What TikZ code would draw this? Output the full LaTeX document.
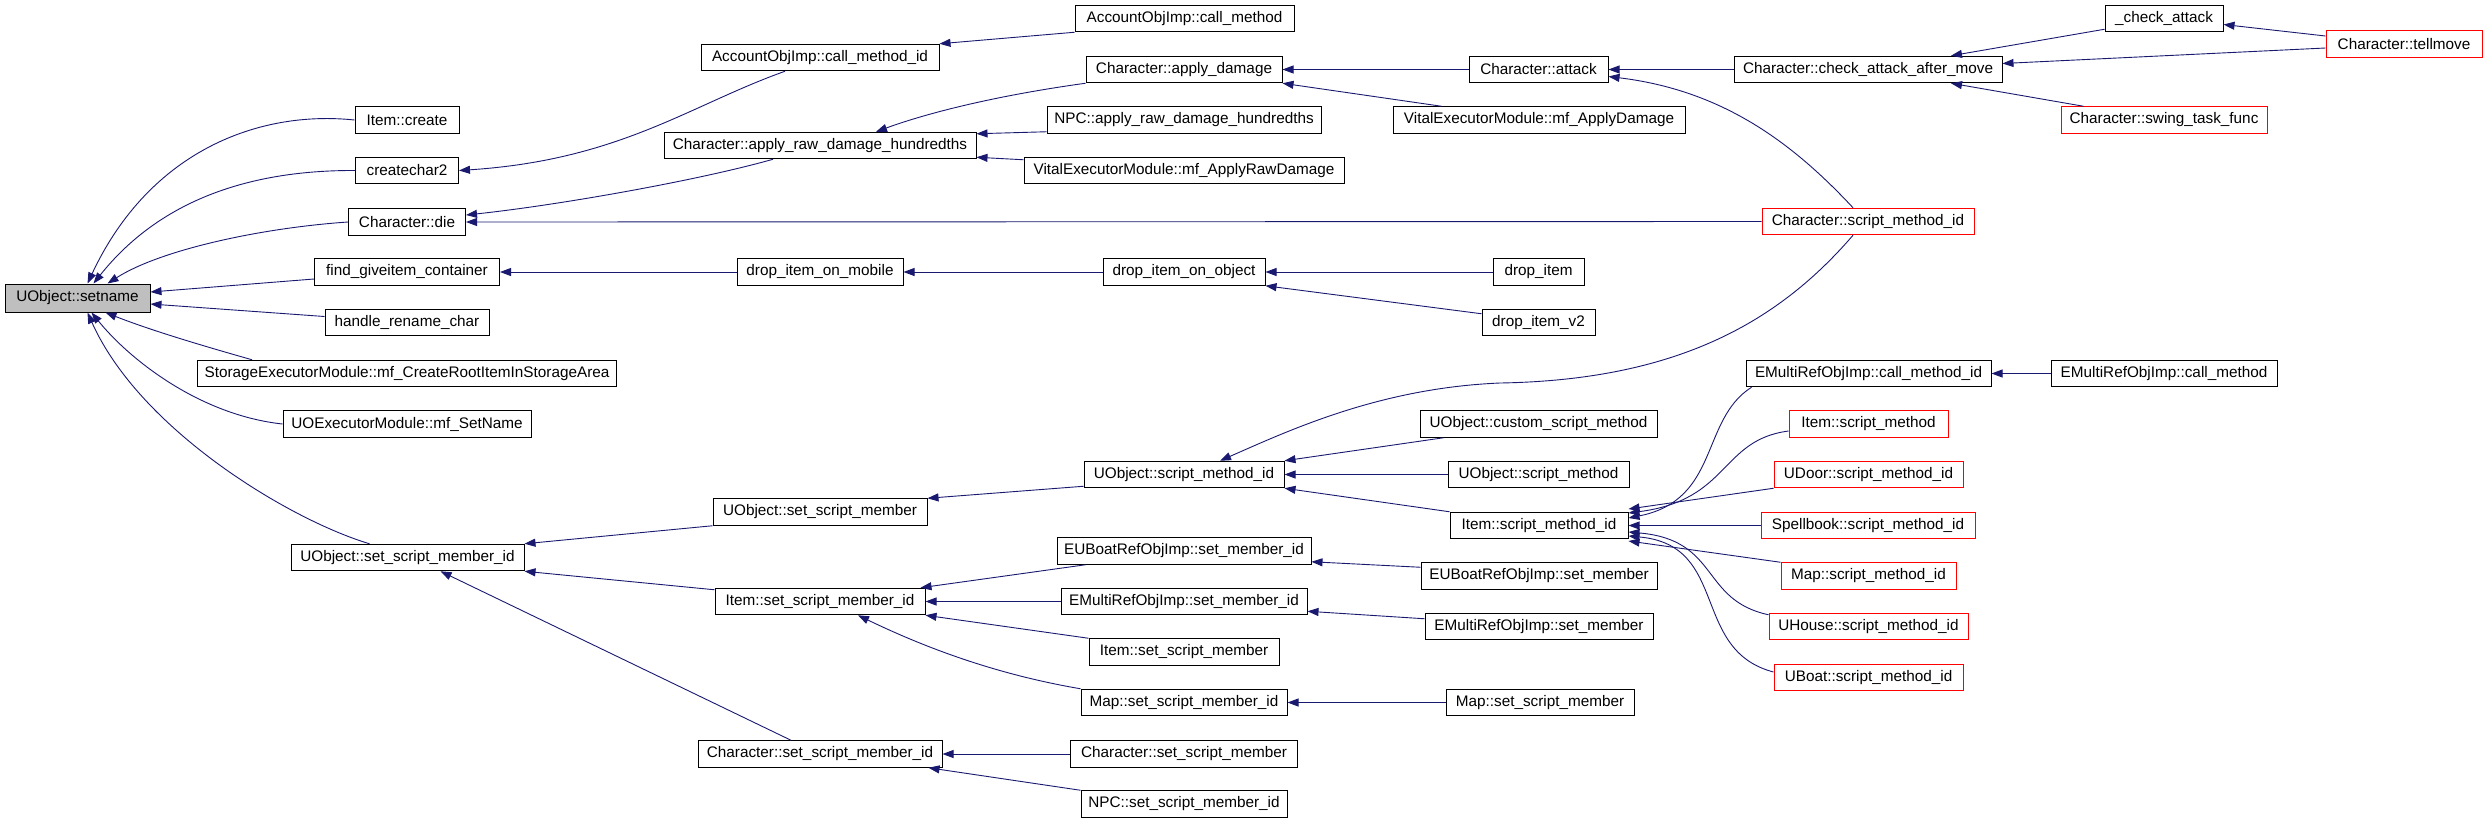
\documentclass[tikz,border=0pt]{standalone}
\usepackage{fontspec}
\setmainfont{Liberation Sans}
\usetikzlibrary{arrows.meta}
\definecolor{midblue}{HTML}{191970}
\definecolor{rootgray}{HTML}{BFBFBF}

\begin{document}
\begin{tikzpicture}[x=1pt,y=-1pt]
\tikzstyle{fn}=[
  rectangle,
  draw,
  line width=1pt,
  minimum height=26.5pt,
  inner sep=0pt,
  font=\fontsize{15.3}{18}\selectfont ]
\tikzstyle{ext}=[fn, draw=red]
\tikzstyle{root}=[fn, fill=rootgray]
\tikzstyle{call}=[midblue, line width=0.9pt, -{Triangle[length=11pt,width=8pt]}]
\useasboundingbox (0,0) rectangle (2488,823);

\node[root, minimum width=145pt, minimum height=28pt] (setname) at (77.5,298) {UObject::setname};

\node[fn, minimum width=104pt] (create) at (407,120) {Item::create};
\node[fn, minimum width=103pt] (createchar2) at (407,170.5) {createchar2};
\node[fn, minimum width=117pt] (die) at (407,222) {Character::die};
\node[fn, minimum width=185pt] (findgive) at (407,272) {find\_giveitem\_container};
\node[fn, minimum width=164pt] (handle) at (407,322.5) {handle\_rename\_char};
\node[fn, minimum width=419pt] (storage) at (407,373.5) {StorageExecutorModule::mf\_CreateRootItemInStorageArea};
\node[fn, minimum width=248pt] (uoexec) at (407,424) {UOExecutorModule::mf\_SetName};
\node[fn, minimum width=233pt] (uossmid) at (407.5,557.5) {UObject::set\_script\_member\_id};

\node[fn, minimum width=238pt] (cmid) at (820,57.5) {AccountObjImp::call\_method\_id};
\node[fn, minimum width=312pt] (ard) at (820,145.5) {Character::apply\_raw\_damage\_hundredths};
\node[fn, minimum width=166pt] (dimob) at (820,272) {drop\_item\_on\_mobile};
\node[fn, minimum width=214pt] (ussm) at (820,512) {UObject::set\_script\_member};
\node[fn, minimum width=210pt] (issmid) at (820,601.5) {Item::set\_script\_member\_id};
\node[fn, minimum width=244pt] (cssmid) at (820,754) {Character::set\_script\_member\_id};

\node[fn, minimum width=219pt] (acm) at (1184.5,18.5) {AccountObjImp::call\_method};
\node[fn, minimum width=196pt] (adamage) at (1184,69.5) {Character::apply\_damage};
\node[fn, minimum width=274pt] (npcard) at (1184,120) {NPC::apply\_raw\_damage\_hundredths};
\node[fn, minimum width=320pt] (vraw) at (1184,170.5) {VitalExecutorModule::mf\_ApplyRawDamage};
\node[fn, minimum width=162pt] (dioo) at (1184,272) {drop\_item\_on\_object};
\node[fn, minimum width=200pt] (usmid) at (1184,474.5) {UObject::script\_method\_id};
\node[fn, minimum width=254pt] (eubsmid) at (1184,551) {EUBoatRefObjImp::set\_member\_id};
\node[fn, minimum width=246pt] (emsmid) at (1184,601.5) {EMultiRefObjImp::set\_member\_id};
\node[fn, minimum width=190pt] (issm) at (1184,652) {Item::set\_script\_member};
\node[fn, minimum width=206pt] (mssmid) at (1184,702.5) {Map::set\_script\_member\_id};
\node[fn, minimum width=227pt] (cssm) at (1184,754) {Character::set\_script\_member};
\node[fn, minimum width=206pt] (npcssmid) at (1184,804) {NPC::set\_script\_member\_id};

\node[fn, minimum width=139pt] (attack) at (1538.5,69.5) {Character::attack};
\node[fn, minimum width=292pt] (vad) at (1539,120) {VitalExecutorModule::mf\_ApplyDamage};
\node[fn, minimum width=91pt] (dropitem) at (1538.5,272) {drop\_item};
\node[fn, minimum width=113pt] (div2) at (1538.5,322.5) {drop\_item\_v2};
\node[fn, minimum width=237pt] (ucsm) at (1538.5,424) {UObject::custom\_script\_method};
\node[fn, minimum width=181pt] (usm) at (1538.5,474.5) {UObject::script\_method};
\node[fn, minimum width=178pt] (ismid) at (1539,525.5) {Item::script\_method\_id};
\node[fn, minimum width=236pt] (eubsm) at (1539,576) {EUBoatRefObjImp::set\_member};
\node[fn, minimum width=228pt] (emsm) at (1539,626.5) {EMultiRefObjImp::set\_member};
\node[fn, minimum width=188pt] (mssm) at (1540,702.5) {Map::set\_script\_member};

\node[fn, minimum width=268pt] (caam) at (1868,69.5) {Character::check\_attack\_after\_move};
\node[ext, minimum width=212pt] (csmid) at (1868,221.5) {Character::script\_method\_id};
\node[fn, minimum width=245pt] (emcmid) at (1868.5,373.5) {EMultiRefObjImp::call\_method\_id};
\node[ext, minimum width=159pt] (ism) at (1868.5,424) {Item::script\_method};
\node[ext, minimum width=189pt] (udoor) at (1868.5,474.5) {UDoor::script\_method\_id};
\node[ext, minimum width=214pt] (spell) at (1868,525.5) {Spellbook::script\_method\_id};
\node[ext, minimum width=175pt] (mapsmid) at (1868.5,576) {Map::script\_method\_id};
\node[ext, minimum width=199pt] (uhouse) at (1868.5,626.5) {UHouse::script\_method\_id};
\node[ext, minimum width=189pt] (uboat) at (1868.5,677.5) {UBoat::script\_method\_id};

\node[fn, minimum width=118pt] (chkatt) at (2164,18.5) {\_check\_attack};
\node[ext, minimum width=206pt] (swing) at (2164,120) {Character::swing\_task\_func};
\node[fn, minimum width=226pt] (emcm) at (2164,373.5) {EMultiRefObjImp::call\_method};

\node[ext, minimum width=156pt] (tellmove) at (2404,44) {Character::tellmove};

\draw[call] (create.west) .. controls (260,110) and (150,150) .. ([xshift=10pt]setname.north);
\draw[call] (createchar2.west) .. controls (250,170) and (160,200) .. ([xshift=16pt]setname.north);
\draw[call] (die.west) .. controls (260,228) and (160,250) .. ([xshift=30pt]setname.north);
\draw[call] ([yshift=-7pt]findgive.west) -- ([yshift=6pt]setname.east);
\draw[call] ([yshift=6pt]handle.west) -- ([yshift=-6pt]setname.east);
\draw[call] ([xshift=55pt]storage.north west) .. controls (200,345) and (150,330) .. ([xshift=28pt]setname.south);
\draw[call] (uoexec.west) .. controls (200,415) and (130,360) .. ([xshift=14pt]setname.south);
\draw[call] ([xshift=-38pt]uossmid.north) .. controls (290,520) and (140,430) .. ([xshift=10pt]setname.south);

\draw[call] ([xshift=-35pt]cmid.south) .. controls (690,105) and (620,160) .. (createchar2.east);
\draw[call] (acm.south west) -- (cmid.north east);
\draw[call] ([xshift=-47pt]ard.south) .. controls (700,180) and (560,205) .. ([yshift=7pt]die.east);
\draw[call] (csmid.west) -- (die.east);
\draw[call] (adamage.south west) .. controls (1000,95) and (930,112) .. ([xshift=56pt]ard.north);
\draw[call] ([yshift=2pt]npcard.south west) -- ([yshift=-2pt]ard.north east);
\draw[call] ([yshift=-3pt]vraw.north west) -- ([yshift=2pt]ard.south east);
\draw[call] (attack.west) -- (adamage.east);
\draw[call] ([xshift=49pt]vad.north west) -- (adamage.south east);
\draw[call] (caam.west) -- (attack.east);
\draw[call] ([xshift=-15pt]csmid.north) .. controls (1790,140) and (1720,90) .. ([yshift=-7pt]attack.east);
\draw[call] ([yshift=3pt]chkatt.south west) -- ([xshift=83pt]caam.north);
\draw[call] ([yshift=-4pt]tellmove.west) -- ([yshift=6pt]caam.east);
\draw[call] ([xshift=23pt]swing.north west) -- ([xshift=83pt]caam.south);
\draw[call] ([yshift=8pt]tellmove.west) -- ([yshift=-6pt]chkatt.east);

\draw[call] (dimob.west) -- (findgive.east);
\draw[call] (dioo.west) -- (dimob.east);
\draw[call] (dropitem.west) -- (dioo.east);
\draw[call] ([yshift=-5pt]div2.north west) -- (dioo.south east);

\draw[call] (ussm.south west) -- (uossmid.north east);
\draw[call] ([yshift=-2pt]issmid.north west) -- (uossmid.south east);
\draw[call] ([xshift=-29pt]cssmid.north) -- ([xshift=33pt]uossmid.south);
\draw[call] ([yshift=2pt]usmid.south west) -- (ussm.north east);
\draw[call] ([xshift=-15pt]csmid.south) .. controls (1780,320) and (1680,380) .. (1500,383)
  .. controls (1380,388) and (1290,430) .. ([xshift=36pt]usmid.north);
\draw[call] ([xshift=24pt]ucsm.south west) -- (usmid.north east);
\draw[call] (usm.west) -- (usmid.east);
\draw[call] (ismid.north west) -- (usmid.south east);
\draw[call] ([xshift=29pt]eubsmid.south west) -- ([xshift=-5pt]issmid.north east);
\draw[call] (emsmid.west) -- (issmid.east);
\draw[call] (issm.north west) -- (issmid.south east);
\draw[call] (mssmid.north west) .. controls (1000,675) and (930,650) .. ([xshift=38pt]issmid.south);
\draw[call] ([yshift=-5pt]eubsm.north west) -- ([yshift=3pt]eubsmid.south east);
\draw[call] ([yshift=-6pt]emsm.north west) -- ([yshift=4pt]emsmid.south east);
\draw[call] (mssm.west) -- (mssmid.east);
\draw[call] (cssm.west) -- (cssmid.east);
\draw[call] (npcssmid.north west) -- ([xshift=-14pt]cssmid.south east);

\draw[call] ([xshift=6pt]emcmid.south west) .. controls (1700,420) and (1720,500) .. ([yshift=7.5pt]ismid.east);
\draw[call] ([yshift=-7pt]ism.west) .. controls (1720,440) and (1730,500) .. ([yshift=12.5pt]ismid.east);
\draw[call] (udoor.south west) -- ([yshift=16.5pt]ismid.east);
\draw[call] (spell.west) -- (ismid.east);
\draw[call] (mapsmid.north west) -- ([yshift=-15.5pt]ismid.east);
\draw[call] ([yshift=-2pt]uhouse.north west) .. controls (1700,600) and (1720,540) .. ([yshift=-6.5pt]ismid.east);
\draw[call] ([yshift=5.5pt]uboat.west) .. controls (1690,650) and (1730,545) .. ([yshift=-10.5pt]ismid.east);
\draw[call] (emcm.west) -- (emcmid.east);
\end{tikzpicture}
\end{document}
